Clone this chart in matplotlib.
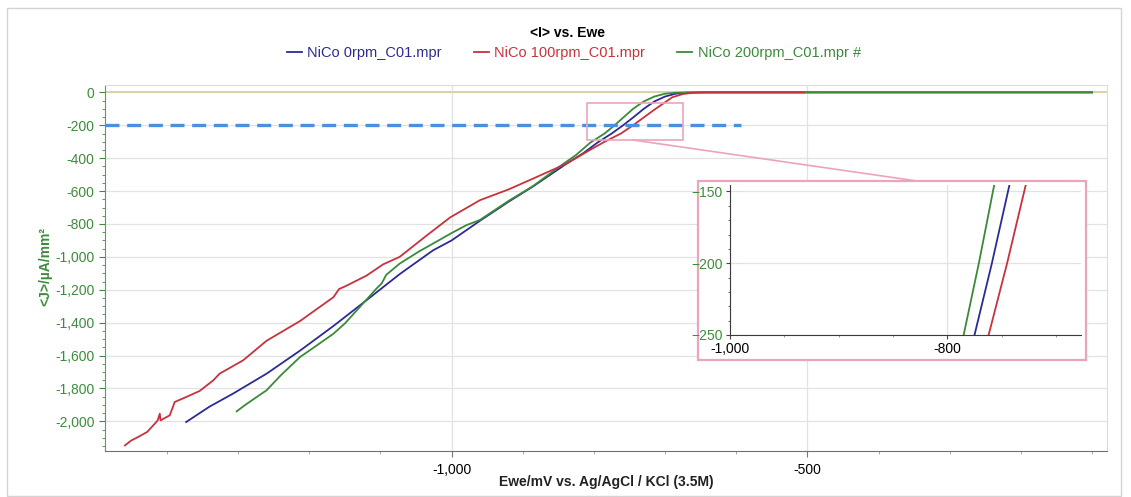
import numpy as np
import matplotlib.pyplot as plt
from matplotlib.ticker import MultipleLocator, FuncFormatter
from matplotlib.patches import Rectangle
from matplotlib.lines import Line2D

plt.rcParams['font.family'] = ['Liberation Sans', 'DejaVu Sans']

# Ewe (mV vs Ag/AgCl) and <J> (uA/mm2)
e_0rpm = [-1373, -1340, -1307, -1260, -1213, -1166, -1120, -1073, -1026, -1000, -960,
          -920, -885, -838, -815, -795, -775, -759, -743, -730, -715, -700, -685, -670,
          -650, -100]
j_0rpm = [-2004, -1910, -1831, -1710, -1570, -1420, -1265, -1105, -960, -900, -780,
          -665, -570, -432, -370, -305, -250, -200, -146, -100, -55, -25, -8, -2,
          0, 0]

e_100rpm = [-1459, -1450, -1441, -1428, -1417, -1413, -1410, -1409, -1396, -1389, -1373,
            -1354, -1335, -1326, -1293, -1260, -1213, -1166, -1158, -1150, -1120, -1096,
            -1073, -1035, -1002, -960, -920, -885, -838, -806, -785, -762, -745, -728,
            -715, -700, -690, -675, -660, -640, -505]
j_100rpm = [-2146, -2116, -2096, -2065, -2014, -1994, -1953, -1994, -1963, -1882, -1852,
            -1815, -1751, -1710, -1629, -1510, -1390, -1245, -1195, -1180, -1115, -1045,
            -1000, -870, -760, -655, -590, -523, -432, -351, -300, -250, -200, -146,
            -105, -60, -30, -10, -2, 0, 0]

e_200rpm = [-1302, -1290, -1280, -1260, -1240, -1213, -1190, -1166, -1150, -1129, -1105,
            -1098, -1092, -1073, -1045, -1026, -1000, -979, -960, -920, -885, -848,
            -825, -805, -785, -771, -757, -745, -730, -715, -700, -685, -665, -100]
j_200rpm = [-1939, -1900, -1870, -1811, -1720, -1609, -1540, -1467, -1405, -1305, -1190,
            -1160, -1110, -1041, -965, -919, -855, -807, -775, -660, -568, -450,
            -380, -305, -250, -200, -146, -100, -55, -25, -8, -2, 0, 0]

labels = ['NiCo 0rpm_C01.mpr', 'NiCo 100rpm_C01.mpr', 'NiCo 200rpm_C01.mpr #']
colors = ['#2b2b96', '#c8323c', '#3a8a3a']
green_txt = '#3c8c3c'
pink = '#eba5ba'

x_min, x_max = -1487, -79
y_min, y_max = -2180, 45
target_j = -200      # dashed reference level
target_end = -594
zoom_box = (-810, -675, -290, -63)   # pink box drawn on the main plot

fit = lambda v, p: f'{v:,.0f}'

fig = plt.figure(figsize=(11.31, 4.97), dpi=100)
fig.add_artist(Rectangle((7 / 1131, 0.002), 1114 / 1131, 488 / 497, transform=fig.transFigure,
                         fill=False, edgecolor='#d4d4d4', lw=1))

ax = fig.add_axes([105 / 1131, 1 - 451 / 497, 1002 / 1131, 366 / 497])
ax.set_xlim(x_min, x_max)
ax.set_ylim(y_min, y_max)
ax.yaxis.set_major_locator(MultipleLocator(200))
ax.yaxis.set_minor_locator(MultipleLocator(50))
ax.xaxis.set_major_locator(MultipleLocator(500))
ax.xaxis.set_minor_locator(MultipleLocator(100))
ax.xaxis.set_major_formatter(FuncFormatter(fit))
ax.yaxis.set_major_formatter(FuncFormatter(fit))
ax.grid(True, which='major', color='#e2e2e2', lw=0.9)
ax.set_axisbelow(True)
ax.tick_params(axis='both', which='both', direction='out', labelsize=10)
ax.tick_params(axis='y', which='major', length=4, color=green_txt, labelcolor=green_txt)
ax.tick_params(axis='y', which='minor', length=2, color=green_txt)
ax.tick_params(axis='x', which='major', length=4, color='#777777', pad=5)
ax.tick_params(axis='x', which='minor', length=2, color='#999999')
ax.spines['left'].set_color('#5a9a5a')
ax.spines['left'].set_linestyle((0, (1.5, 1)))
ax.spines['bottom'].set_color('#707070')
for s in ('top', 'right'):
    ax.spines[s].set_color('#dcdcdc')

ax.axhline(0, color='#d8d0a4', lw=1.3, zorder=1)
h0, = ax.plot(e_0rpm, j_0rpm, color=colors[0], lw=1.3, zorder=3)
h2, = ax.plot(e_200rpm, j_200rpm, color=colors[2], lw=1.3, zorder=3)
h1, = ax.plot(e_100rpm, j_100rpm, color=colors[1], lw=1.3, zorder=3)

ax.hlines(target_j, x_min, target_end, colors='#4a8fe0', lw=2.4,
          linestyles=(0, (4.2, 2.3)), zorder=4)
ax.add_patch(Rectangle((zoom_box[0], zoom_box[2]), zoom_box[1] - zoom_box[0],
                       zoom_box[3] - zoom_box[2], fill=False, edgecolor=pink, lw=1.2, zorder=5))

# inset frame + connector
fig.add_artist(Line2D([633 / 1131, 917 / 1131], [1 - 140 / 497, 1 - 181 / 497],
                      transform=fig.transFigure, color=pink, lw=1.2, zorder=3))
fig.add_artist(Rectangle((698 / 1131, 1 - 360 / 497), 388 / 1131, 179 / 497,
                         transform=fig.transFigure, facecolor='white', edgecolor=pink,
                         lw=1.6, zorder=3))

ins = fig.add_axes([730 / 1131, 1 - 335 / 497, 351 / 1131, 150 / 497])
ins.set_zorder(4)
ins.set_xlim(-1000, -677)
ins.set_ylim(-250, -145.5)
ins.set_xticks([-1000, -800])
ins.set_yticks([-250, -200, -150])
ins.xaxis.set_minor_locator(MultipleLocator(50))
ins.yaxis.set_minor_locator(MultipleLocator(10))
ins.xaxis.set_major_formatter(FuncFormatter(fit))
ins.grid(True, which='major', color='#e2e2e2', lw=0.9)
ins.set_axisbelow(True)
ins.tick_params(axis='both', which='both', direction='out', labelsize=10, pad=2)
ins.tick_params(axis='y', which='major', length=3, color='#444444', labelcolor=green_txt)
ins.tick_params(axis='y', which='minor', length=1.5, color='#444444')
ins.tick_params(axis='x', which='major', length=3, color='#444444')
ins.tick_params(axis='x', which='minor', length=1.5, color='#888888')
ins.spines['left'].set_color('#3a3a3a')
ins.spines['bottom'].set_color('#3a3a3a')
for s in ('top', 'right'):
    ins.spines[s].set_visible(False)
ins.plot(e_0rpm, j_0rpm, color=colors[0], lw=1.3)
ins.plot(e_200rpm, j_200rpm, color=colors[2], lw=1.3)
ins.plot(e_100rpm, j_100rpm, color=colors[1], lw=1.3)

fig.text(568 / 1131, 1 - 33 / 497, '<I> vs. Ewe', ha='center', va='center',
         fontsize=10, fontweight='bold')
leg = fig.legend([h0, h1, h2], labels, loc='center', bbox_to_anchor=(574 / 1131, 1 - 53 / 497),
                 ncol=3, frameon=False, handlelength=1.0, handletextpad=0.4,
                 columnspacing=2.2, fontsize=10.5)
for t, c in zip(leg.get_texts(), colors):
    t.set_color(c)

fig.text(45 / 1131, 1 - 266 / 497, '<J>/µA/mm²', rotation=90, ha='center', va='center',
         fontsize=10, fontweight='bold', color=green_txt)
fig.text(606 / 1131, 1 - 482 / 497, 'Ewe/mV vs. Ag/AgCl / KCl (3.5M)', ha='center',
         va='center', fontsize=10, fontweight='bold', color='#222222')

fig.savefig('out.png', dpi=100)
